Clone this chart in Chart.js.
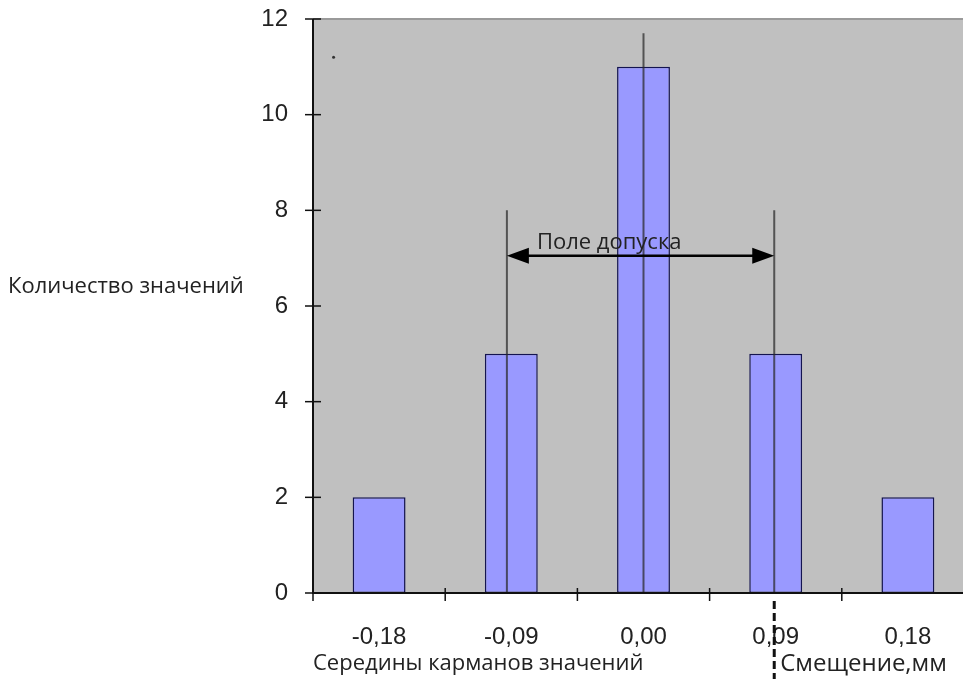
<!DOCTYPE html>
<html>
<head>
<meta charset="utf-8">
<script src="https://cdn.jsdelivr.net/npm/chart.js@4/dist/chart.umd.min.js"></script>
<style>
  html, body { margin:0; padding:0; background:#fff; overflow:hidden; }
  #wrap { width:978px; height:679px; position:relative; }
</style>
</head>
<body>
<div id="wrap"><canvas id="c"></canvas></div>
<script>
// histogram data
const categories = ['-0,18', '-0,09', '0,00', '0,09', '0,18'];
const counts = [2, 5, 11, 5, 2];
const yTicks = [0, 2, 4, 6, 8, 10, 12];

// tolerance field lines (x in mm, top in count units)
const tolLeft = [{x:-0.093, y:0}, {x:-0.093, y:8}];
const tolRight = [{x:0.089, y:0}, {x:0.089, y:8}];
const centerLine = [{x:0, y:0}, {x:0, y:11.7}];
const arrowY = 7.05;
const arrowLabel = 'Поле допуска';
const strayDot = [{x:-0.211, y:11.2}];

const yTitle = 'Количество значений';
const xTitle = 'Середины карманов значений';
const xUnit = 'Смещение,мм';

const extras = {
  id:'extras',
  beforeDraw(chart){
    const {ctx, chartArea:a} = chart;
    ctx.save();
    ctx.fillStyle = '#c0c0c0';
    ctx.fillRect(a.left, a.top, a.right - a.left, a.bottom - a.top);
    ctx.restore();
  },
  afterDatasetsDraw(chart){
    const {ctx, chartArea:a, scales} = chart;
    const x = scales.x, y = scales.y, x2 = scales.x2;
    ctx.save();
    // top border
    ctx.strokeStyle = '#9a9a9a';
    ctx.lineWidth = 2;
    ctx.beginPath(); ctx.moveTo(a.left, a.top); ctx.lineTo(a.right, a.top); ctx.stroke();
    // axes
    ctx.strokeStyle = '#111';
    ctx.lineWidth = 2;
    ctx.beginPath();
    ctx.moveTo(a.left, a.top); ctx.lineTo(a.left, a.bottom); ctx.lineTo(a.right, a.bottom);
    ctx.stroke();
    ctx.lineWidth = 1.5;
    yTicks.forEach(v => {
      const py = y.getPixelForValue(v);
      ctx.beginPath(); ctx.moveTo(a.left - 8, py); ctx.lineTo(a.left + 8, py); ctx.stroke();
    });
    const step = x.getPixelForValue(1) - x.getPixelForValue(0);
    for (let i = 0; i < categories.length; i++) {
      const px = x.getPixelForValue(i) - step / 2;
      ctx.beginPath(); ctx.moveTo(px, a.bottom - 5); ctx.lineTo(px, a.bottom + 8); ctx.stroke();
    }
    // arrow
    const ax1 = x2.getPixelForValue(tolLeft[0].x), ax2 = x2.getPixelForValue(tolRight[0].x);
    const ay = y.getPixelForValue(arrowY);
    ctx.strokeStyle = '#000'; ctx.fillStyle = '#000';
    ctx.lineWidth = 2.5;
    ctx.beginPath(); ctx.moveTo(ax1 + 10, ay); ctx.lineTo(ax2 - 10, ay); ctx.stroke();
    ctx.beginPath(); ctx.moveTo(ax1, ay); ctx.lineTo(ax1 + 22, ay - 8); ctx.lineTo(ax1 + 22, ay + 8); ctx.closePath(); ctx.fill();
    ctx.beginPath(); ctx.moveTo(ax2, ay); ctx.lineTo(ax2 - 22, ay - 8); ctx.lineTo(ax2 - 22, ay + 8); ctx.closePath(); ctx.fill();
    ctx.fillStyle = '#222';
    ctx.font = '22px "Open Sans"';
    ctx.textBaseline = 'bottom';
    ctx.textAlign = 'left';
    ctx.fillText(arrowLabel, ax1 + 30, ay - 2);
    // dashed marker under 0,09
    const dx = x2.getPixelForValue(tolRight[0].x);
    ctx.strokeStyle = '#111';
    ctx.lineWidth = 3;
    ctx.setLineDash([8, 4]);
    ctx.beginPath(); ctx.moveTo(dx, a.bottom + 8); ctx.lineTo(dx, chart.height); ctx.stroke();
    ctx.setLineDash([]);
    // titles
    ctx.fillStyle = '#222';
    ctx.textBaseline = 'middle';
    ctx.font = '22px "Open Sans"';
    ctx.fillText(yTitle, 8, 287);
    ctx.fillText(xTitle, a.left, 664);
    ctx.font = '24px "Open Sans"';
    ctx.fillText(xUnit, dx + 6, 664);
    ctx.restore();
  }
};

const lineStyle = {
  type:'line', xAxisID:'x2', borderColor:'rgba(40,40,40,0.72)', borderWidth:2,
  pointRadius:0, fill:false, order:0
};

new Chart(document.getElementById('c'), {
  data:{
    labels:categories,
    datasets:[
      { type:'bar', data:counts, backgroundColor:'#9999ff', borderColor:'#141450',
        borderWidth:1.5, borderSkipped:false, barPercentage:0.4, categoryPercentage:1,
        grouped:false, order:1 },
      Object.assign({data:tolLeft}, lineStyle),
      Object.assign({data:tolRight}, lineStyle),
      Object.assign({data:centerLine}, lineStyle),
      { type:'scatter', xAxisID:'x2', data:strayDot, pointRadius:1.5, backgroundColor:'#333', borderWidth:0 }
    ]
  },
  options:{
    responsive:true, maintainAspectRatio:false, animation:false,
    layout:{padding:{top:19, right:0, left:0, bottom:0}},
    plugins:{legend:{display:false}, tooltip:{enabled:false}},
    scales:{
      x:{
        type:'category', offset:true,
        grid:{display:false}, border:{display:false},
        ticks:{color:'#222', font:{family:'"Liberation Sans"', size:24}, padding:22},
        afterFit(s){ s.height = 86; s.paddingLeft = 0; s.paddingRight = 0; }
      },
      x2:{ type:'linear', display:false, min:-0.225, max:0.225 },
      y:{
        min:0, max:12,
        grid:{display:false}, border:{display:false},
        ticks:{stepSize:2, color:'#222', font:{family:'"Liberation Sans"', size:24}, padding:17},
        afterFit(s){ s.width = 313; s.paddingTop = 0; s.paddingBottom = 0; }
      }
    }
  },
  plugins:[extras]
});
</script>
</body>
</html>
